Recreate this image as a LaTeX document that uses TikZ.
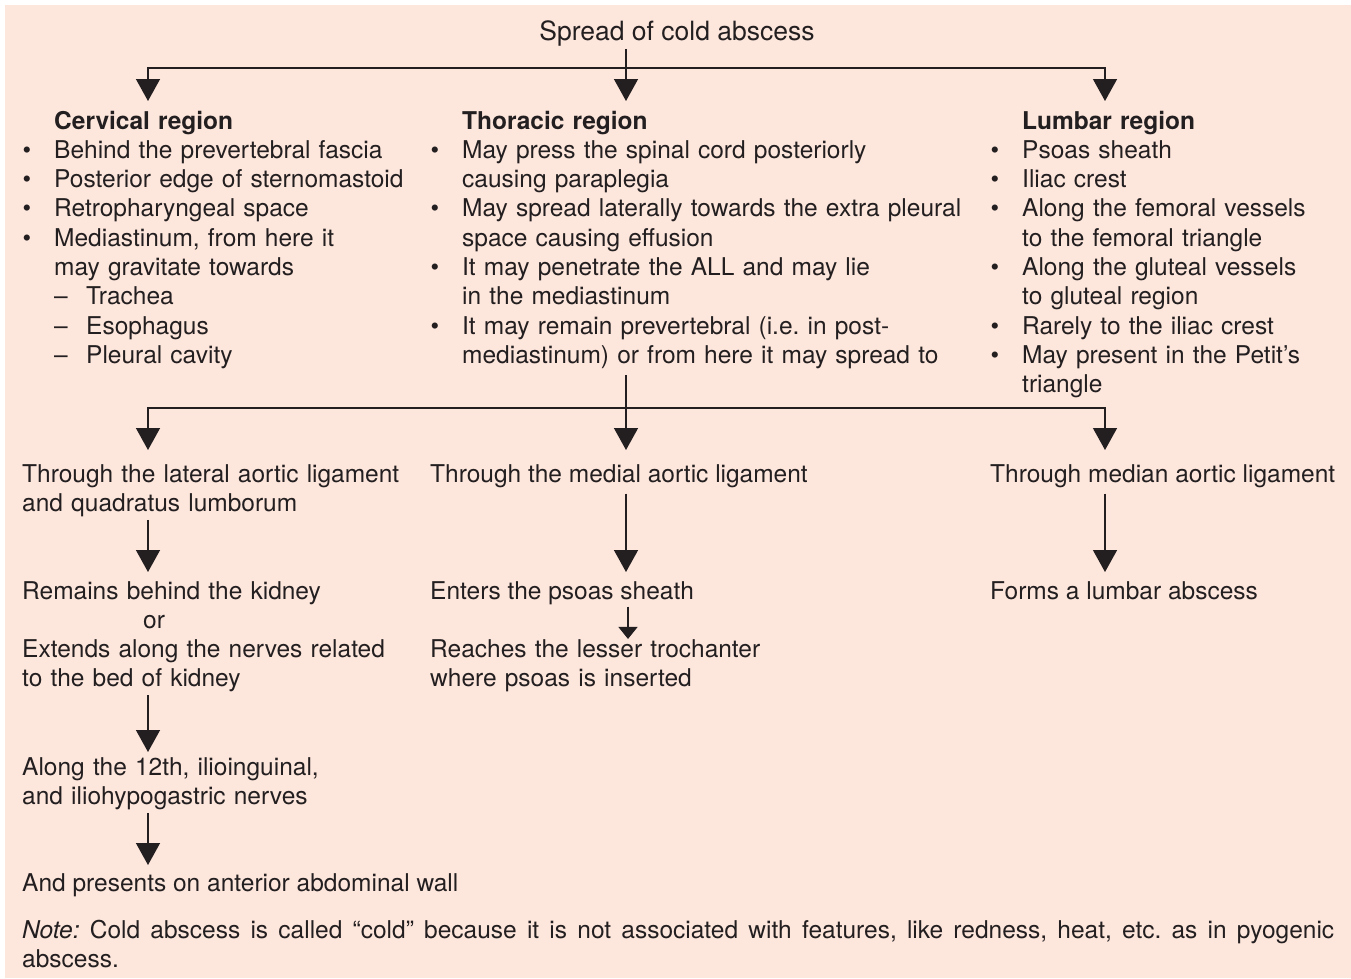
\documentclass[tikz,border=0pt]{standalone}
\usepackage{fontspec}
\setmainfont{TeX Gyre Heros}
\usetikzlibrary{arrows.meta}
\definecolor{bgP}{RGB}{253,230,220}
\definecolor{txtK}{RGB}{35,31,32}
\newcommand{\bul}{\leavevmode\llap{\textbullet\hspace{23pt}}}
\newcommand{\subitm}[1]{\makebox[32pt][l]{–}#1}
\frenchspacing

\begin{document}
\begin{tikzpicture}[x=1pt,y=-1pt,>={Triangle[length=22pt,width=24pt]},
  txt/.style={anchor=base west,inner sep=0pt,align=left,text=txtK,
    font=\fontsize{24.5}{29.3}\selectfont},
  link/.style={line width=1.4pt,draw=txtK}]
\useasboundingbox (0,0) rectangle (1351,978);
\fill[bgP] (5,5) rectangle (1351,978);
% columns of the arrows
\coordinate (colA) at (148,0);
\coordinate (colB) at (626,0);
\coordinate (colC) at (1105,0);
% top: the three regions
\node[txt,anchor=base,font=\fontsize{26.5}{30}\selectfont] (title) at (677,40) {Spread of cold abscess};
\node[txt,text width=420pt] (cerv) at (54,129) {\textbf{Cervical region}\\
  \bul Behind the prevertebral fascia\\
  \bul Posterior edge of sternomastoid\\
  \bul Retropharyngeal space\\
  \bul Mediastinum, from here it\\
  may gravitate towards\\
  \subitm{Trachea}\\
  \subitm{Esophagus}\\
  \subitm{Pleural cavity}};
\node[txt,text width=530pt] (thor) at (462,129) {\textbf{Thoracic region}\\
  \bul May press the spinal cord posteriorly\\
  causing paraplegia\\
  \bul May spread laterally towards the extra pleural\\
  space causing effusion\\
  \bul It may penetrate the ALL and may lie\\
  in the mediastinum\\
  \bul It may remain prevertebral (i.e. in post-\\
  mediastinum) or from here it may spread to};
\node[txt,text width=320pt] (lumr) at (1022,129) {\textbf{Lumbar region}\\
  \bul Psoas sheath\\
  \bul Iliac crest\\
  \bul Along the femoral vessels\\
  to the femoral triangle\\
  \bul Along the gluteal vessels\\
  to gluteal region\\
  \bul Rarely to the iliac crest\\
  \bul May present in the Petit’s\\
  triangle};
\coordinate (j1) at (626,68);
\coordinate (tipA1) at (148,101);
\coordinate (tipB1) at (626,101);
\coordinate (tipC1) at (1105,101);
\draw[link] ([yshift=-3pt]title.south -| j1) -- (j1);
\draw[link,->] (j1) -| (tipA1);
\draw[link,->] (j1) -- (tipB1);
\draw[link,->] (j1) -| (tipC1);
% the ligaments
\node[txt,text width=400pt] (lat) at (22,482) {Through the lateral aortic ligament\\
  and quadratus lumborum};
\node[txt] (med) at (430,482) {Through the medial aortic ligament};
\node[txt] (mdn) at (990,482) {Through median aortic ligament};
\coordinate (j2) at (626,408);
\coordinate (tipA2) at (148,450);
\coordinate (tipB2) at (626,450);
\coordinate (tipC2) at (1105,450);
\draw[link] ([yshift=-6pt]thor.south -| j2) -- (j2);
\draw[link,->] (j2) -| (tipA2);
\draw[link,->] (j2) -- (tipB2);
\draw[link,->] (j2) -| (tipC2);
% next steps
\node[txt,text width=400pt] (kid) at (22,599) {Remains behind the kidney\\
  \hspace*{121pt}or\\
  Extends along the nerves related\\
  to the bed of kidney};
\node[txt] (psoas) at (430,599) {Enters the psoas sheath};
\node[txt,text width=400pt] (troch) at (430,657) {Reaches the lesser trochanter\\
  where psoas is inserted};
\node[txt] (lumb) at (990,599) {Forms a lumbar abscess};
\coordinate (tipA3) at (148,572);
\coordinate (tipB3) at (626,572);
\coordinate (tipC3) at (1105,572);
\draw[link,->] ([yshift=-3pt]lat.south -| colA) -- (tipA3);
\draw[link,->] ([yshift=-6pt]med.south -| colB) -- (tipB3);
\draw[link,->] ([yshift=-6pt]mdn.south -| colC) -- (tipC3);
\coordinate (colS) at (628,0);
\draw[link,-{Triangle[length=12pt,width=19pt]}] ([yshift=-2pt]psoas.south -| colS) -- (troch.north -| colS);
% the left chain
\node[txt,text width=400pt] (nerv) at (22,775) {Along the 12th, ilioinguinal,\\
  and iliohypogastric nerves};
\node[txt] (wall) at (22,891) {And presents on anterior abdominal wall};
\coordinate (tipA4) at (148,752);
\coordinate (tipA5) at (148,865);
\draw[link,->] ([yshift=-3pt]kid.south -| colA) -- (tipA4);
\draw[link,->] ([yshift=-3pt]nerv.south -| colA) -- (tipA5);
% note
\node[txt,text width=1312pt,align=justify] (note) at (22,938) {\textit{Note:} Cold abscess is called “cold” because it is not associated with features, like redness, heat, etc. as in pyogenic\linebreak abscess.};
\end{tikzpicture}
\end{document}
